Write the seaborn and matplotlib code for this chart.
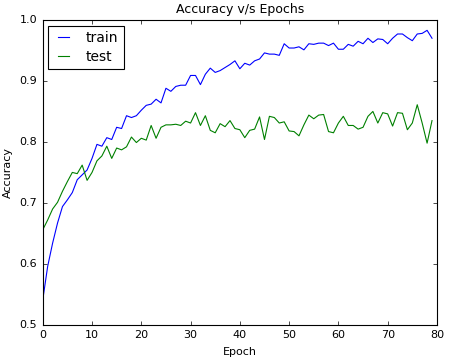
import numpy as np
import pandas as pd
import matplotlib
matplotlib.use("Agg")
import matplotlib.pyplot as plt
import seaborn as sns

epochs = list(range(80))
train_acc = [0.541, 0.596, 0.634, 0.667, 0.694, 0.705, 0.717, 0.738, 0.746, 0.754,
             0.773, 0.796, 0.793, 0.807, 0.804, 0.824, 0.822, 0.843, 0.840, 0.843,
             0.852, 0.860, 0.862, 0.870, 0.864, 0.888, 0.883, 0.891, 0.893, 0.893,
             0.909, 0.909, 0.894, 0.911, 0.921, 0.914, 0.917, 0.922, 0.927, 0.933,
             0.920, 0.929, 0.926, 0.933, 0.936, 0.946, 0.944, 0.944, 0.942, 0.961,
             0.954, 0.954, 0.956, 0.951, 0.961, 0.960, 0.962, 0.962, 0.958, 0.962,
             0.952, 0.952, 0.960, 0.957, 0.965, 0.961, 0.970, 0.963, 0.969, 0.968,
             0.961, 0.970, 0.977, 0.977, 0.971, 0.966, 0.977, 0.978, 0.983, 0.970]
test_acc = [0.656, 0.672, 0.690, 0.701, 0.719, 0.735, 0.750, 0.748, 0.762, 0.737,
            0.750, 0.769, 0.777, 0.793, 0.773, 0.790, 0.787, 0.792, 0.808, 0.799,
            0.806, 0.803, 0.827, 0.806, 0.824, 0.828, 0.828, 0.829, 0.827, 0.834,
            0.831, 0.848, 0.827, 0.843, 0.819, 0.815, 0.830, 0.825, 0.835, 0.822,
            0.820, 0.807, 0.819, 0.821, 0.841, 0.804, 0.842, 0.840, 0.831, 0.833,
            0.818, 0.817, 0.810, 0.828, 0.844, 0.838, 0.844, 0.845, 0.817, 0.815,
            0.831, 0.842, 0.827, 0.827, 0.821, 0.824, 0.842, 0.850, 0.831, 0.848,
            0.846, 0.826, 0.848, 0.847, 0.820, 0.831, 0.861, 0.831, 0.798, 0.835]
series_names = ["train", "test"]
title = "Accuracy v/s Epochs"
x_label = "Epoch"
y_label = "Accuracy"

plt.style.use("classic")
plt.rcParams["font.family"] = ["DejaVu Sans"]

df = pd.DataFrame({
    "Epoch": epochs * 2,
    "Accuracy": train_acc + test_acc,
    "series": [series_names[0]] * len(epochs) + [series_names[1]] * len(epochs),
})

fig = plt.figure(figsize=(4.5, 3.63), dpi=100)
fig.patch.set_facecolor("white")
ax = fig.add_axes([0.095, 0.105, 0.876, 0.84])
sns.lineplot(data=df, x="Epoch", y="Accuracy", hue="series",
             palette=["#0000ff", "#008000"], linewidth=0.8, ax=ax, legend=True)
ax.set_xlim(0, 80)
ax.set_ylim(0.5, 1.0)
ax.set_xticks(range(0, 81, 10))
ax.set_yticks(np.arange(0.5, 1.01, 0.1))
ax.tick_params(labelsize=8, direction="in", top=True, right=True, length=3)
ax.set_title(title, fontsize=9)
ax.set_xlabel(x_label, fontsize=8)
ax.set_ylabel(y_label, fontsize=8)
for s in ax.spines.values():
    s.set_linewidth(0.8)
leg = ax.legend(loc="upper left", fontsize=10, frameon=True, fancybox=False,
                handlelength=1.4, handletextpad=0.9, borderpad=0.4,
                labelspacing=0.35, borderaxespad=0.4)
leg.get_frame().set_edgecolor("black")
leg.get_frame().set_linewidth(0.8)

fig.savefig("out.png", dpi=100, facecolor="white")
